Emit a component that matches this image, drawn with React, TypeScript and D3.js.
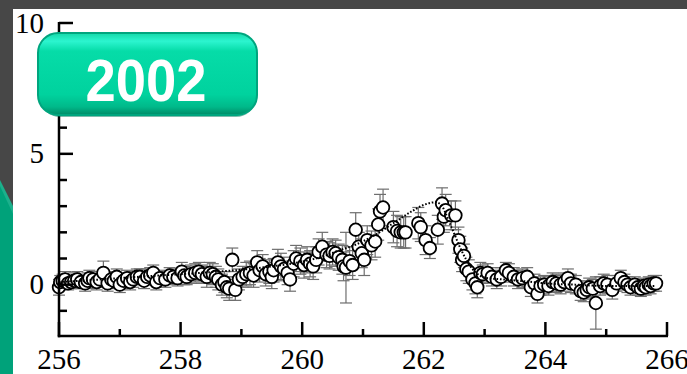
import React from "react";
import * as d3 from "d3";

const xTicksMajor = [256, 258, 260, 262, 264, 266];
const xTicksMinor = [257, 259, 261, 263, 265];
const yTicksMajor = [0, 5, 10];
const yTicksMinor = [-1, 1, 2, 3, 4, 6, 7, 8, 9];

// measured data: energy, value, error
const dataX = [
  256.0, 256.02, 256.06, 256.1, 256.15, 256.2, 256.25, 256.3, 256.36, 256.43, 256.47, 256.5, 256.56, 256.62, 256.67, 256.73, 256.8, 256.86, 256.9, 256.95, 257.0, 257.06, 257.12, 257.17, 257.22, 257.28, 257.33, 257.4, 257.45, 257.5, 257.55, 257.6, 257.66, 257.75, 257.82, 257.88, 257.95, 258.02, 258.06, 258.1, 258.17, 258.24, 258.3, 258.35, 258.43, 258.48, 258.53, 258.58, 258.62, 258.68, 258.72, 258.76, 258.8, 258.85, 258.9, 258.96, 259.02, 259.08, 259.14, 259.2, 259.26, 259.3, 259.35, 259.4, 259.46, 259.5, 259.53, 259.6, 259.65, 259.7, 259.76, 259.8, 259.86, 259.9, 259.97, 260.03, 260.08, 260.13, 260.18, 260.23, 260.27, 260.33, 260.4, 260.45, 260.5, 260.55, 260.6, 260.66, 260.68, 260.72, 260.78, 260.83, 260.88, 260.93, 260.98, 261.02, 261.07, 261.14, 261.2, 261.25, 261.28, 261.33, 261.5, 261.56, 261.62, 261.67, 261.7, 261.91, 261.95, 262.03, 262.1, 262.23, 262.3, 262.33, 262.36, 262.45, 262.52, 262.57, 262.6, 262.63, 262.66, 262.7, 262.74, 262.8, 262.85, 262.88, 262.93, 262.97, 263.05, 263.12, 263.2, 263.27, 263.35, 263.4, 263.48, 263.55, 263.62, 263.7, 263.76, 263.82, 263.87, 263.92, 263.98, 264.05, 264.12, 264.18, 264.25, 264.31, 264.37, 264.42, 264.5, 264.58, 264.63, 264.68, 264.72, 264.78, 264.83, 264.9, 264.96, 265.02, 265.1, 265.17, 265.24, 265.3, 265.35, 265.4, 265.47, 265.52, 265.57, 265.62, 265.65, 265.7, 265.73, 265.78, 265.82,
];
const dataY = [
  -0.1, 0.1, 0.15, 0.2, 0.05, 0.1, 0.15, 0.2, 0.1, 0.05, 0.15, 0.25, 0.2, 0.1, 0.2, 0.45, 0.05, 0.2, 0.15, 0.3, 0.0, 0.15, 0.25, 0.1, 0.2, 0.3, 0.3, 0.15, 0.3, 0.35, 0.45, 0.1, 0.25, 0.2, 0.35, 0.3, 0.25, 0.5, 0.35, 0.3, 0.4, 0.45, 0.5, 0.4, 0.3, 0.45, 0.4, 0.3, 0.2, 0.0, 0.1, -0.1, -0.15, 0.95, -0.2, 0.2, 0.3, 0.4, 0.45, 0.35, 0.85, 0.55, 0.7, 0.4, 0.5, 0.3, 0.55, 0.85, 0.7, 0.6, 0.45, 0.2, 0.8, 1.0, 0.9, 0.75, 0.95, 0.8, 0.7, 0.95, 1.25, 1.45, 1.15, 1.1, 1.25, 1.2, 1.05, 0.95, 0.7, 0.65, 0.9, 0.75, 2.1, 1.45, 1.2, 0.95, 1.7, 1.5, 1.65, 2.3, 2.8, 2.95, 2.2, 2.05, 2.0, 2.0, 2.0, 2.35, 2.2, 1.7, 1.4, 2.1, 3.1, 2.6, 2.85, 2.65, 2.65, 1.7, 1.35, 0.95, 1.1, 0.6, 0.5, 0.2, 0.05, -0.1, 0.45, 0.4, 0.45, 0.3, 0.2, 0.3, 0.55, 0.45, 0.3, 0.2, 0.25, 0.3, -0.1, 0.05, -0.35, -0.05, 0.0, -0.05, 0.1, 0.05, 0.0, 0.1, 0.25, 0.05, 0.0, -0.25, -0.3, -0.2, -0.1, -0.15, -0.7, -0.05, 0.05, 0.0, -0.2, 0.05, 0.25, 0.1, 0.0, -0.1, 0.0, -0.1, -0.15, -0.05, -0.1, 0.0, -0.05, 0.05, 0.05,
];
const dataErr = [
  0.3, 0.25, 0.25, 0.3, 0.25, 0.25, 0.3, 0.3, 0.25, 0.3, 0.3, 0.3, 0.3, 0.3, 0.3, 0.45, 0.3, 0.3, 0.3, 0.3, 0.3, 0.3, 0.3, 0.3, 0.3, 0.3, 0.3, 0.3, 0.3, 0.3, 0.3, 0.3, 0.3, 0.3, 0.3, 0.3, 0.3, 0.35, 0.35, 0.3, 0.35, 0.35, 0.35, 0.35, 0.4, 0.4, 0.4, 0.4, 0.4, 0.4, 0.4, 0.4, 0.45, 0.45, 0.4, 0.4, 0.4, 0.45, 0.45, 0.45, 0.45, 0.45, 0.45, 0.45, 0.45, 0.45, 0.45, 0.5, 0.5, 0.45, 0.45, 0.45, 0.5, 0.5, 0.5, 0.5, 0.5, 0.5, 0.5, 0.5, 0.5, 0.55, 0.5, 0.5, 0.5, 0.5, 0.5, 0.55, 0.55, 1.35, 0.55, 0.55, 0.65, 0.55, 0.55, 0.6, 0.55, 0.55, 0.6, 0.6, 0.65, 0.7, 0.6, 0.6, 0.6, 0.6, 0.6, 0.6, 0.55, 0.55, 0.4, 0.55, 0.6, 0.6, 0.6, 0.55, 0.55, 0.5, 0.5, 0.45, 0.45, 0.45, 0.45, 0.4, 0.4, 0.4, 0.4, 0.35, 0.35, 0.35, 0.35, 0.35, 0.3, 0.35, 0.35, 0.35, 0.35, 0.35, 0.35, 0.35, 0.35, 0.35, 0.35, 0.35, 0.35, 0.35, 0.35, 0.35, 0.35, 0.35, 0.35, 0.35, 0.35, 0.35, 0.35, 0.35, 1.0, 0.35, 0.35, 0.35, 0.35, 0.3, 0.3, 0.3, 0.3, 0.3, 0.3, 0.3, 0.3, 0.3, 0.3, 0.3, 0.3, 0.3, 0.3, 0.3,
];

// fit curve (dotted)
const fitX = [256, 256.5, 257, 257.5, 258, 258.5, 259, 259.5, 260, 260.3, 260.6, 260.9, 261.2, 261.5, 261.8, 262.0, 262.2, 262.3, 262.4, 262.5, 262.6, 262.7, 262.8, 262.9, 263.0, 263.3, 263.7, 264.0, 264.5, 265.0, 265.8];
const fitY = [0.1, 0.17, 0.25, 0.33, 0.4, 0.48, 0.57, 0.7, 0.88, 1.05, 1.3, 1.55, 1.9, 2.35, 2.8, 3.05, 3.15, 3.0, 2.5, 1.95, 1.4, 0.95, 0.6, 0.38, 0.27, 0.2, 0.12, 0.05, 0.0, -0.05, -0.05];

const badgeLabel = "2002";

export default function App() {
  const W = 687, H = 374;
  const x = d3.scaleLinear().domain([256, 266]).range([59, 667]);
  const y = d3.scaleLinear().domain([-2, 10]).range([337, 23]);
  const axisY = 336;
  const axisX = 59;
  const n = Math.min(dataX.length, dataY.length, dataErr.length);
  const pts = d3.range(n).map(i => ({ x: dataX[i], y: dataY[i], e: dataErr[i] }));
  const fit = fitX.map((v, i) => [v, fitY[i]] as [number, number]);
  const line = d3.line<[number, number]>().x(d => x(d[0])).y(d => y(d[1])).curve(d3.curveMonotoneX);
  const serif = "'Liberation Serif', 'Times New Roman', serif";
  return (
    <div style={{ position: "fixed", left: 0, top: 0, width: W, height: H }}>
      <svg width={W} height={H} style={{ display: "block" }}>
        <defs>
          <linearGradient id="badge" x1="0" y1="0" x2="0" y2="1">
            <stop offset="0" stopColor="#14d8a8" />
            <stop offset="0.1" stopColor="#2cf5cf" />
            <stop offset="0.22" stopColor="#06dca8" />
            <stop offset="0.75" stopColor="#00d29e" />
            <stop offset="0.9" stopColor="#00b98a" />
            <stop offset="1" stopColor="#008a66" />
          </linearGradient>
        </defs>
        <rect x={0} y={0} width={W} height={H} fill="#ffffff" />
        <rect x={0} y={0} width={W} height={9} fill="#474747" />
        <rect x={0} y={0} width={13} height={H} fill="#474747" />
        <polygon points={`0,180 13,206 13,${H} 0,${H}`} fill="#1cb08c" />
        <polygon points={`0,186 13,214 13,${H} 0,${H}`} fill="#00a27a" />

        {/* error bars */}
        <g stroke="#6e6e6e" strokeWidth={1.2} fill="none">
          {pts.map((p, i) => (
            <g key={i}>
              <line x1={x(p.x)} x2={x(p.x)} y1={y(p.y - p.e)} y2={y(p.y + p.e)} />
              <line x1={x(p.x) - 6} x2={x(p.x) + 6} y1={y(p.y - p.e)} y2={y(p.y - p.e)} />
              <line x1={x(p.x) - 6} x2={x(p.x) + 6} y1={y(p.y + p.e)} y2={y(p.y + p.e)} />
            </g>
          ))}
        </g>
        {/* circles */}
        <g>
          {pts.map((p, i) => (
            <circle key={i} cx={x(p.x)} cy={y(p.y)} r={6.3} fill="#ffffff" stroke="#000" strokeWidth={1.8} />
          ))}
        </g>
        {/* fit */}
        <path d={line(fit) || ""} fill="none" stroke="#000" strokeWidth={2} strokeDasharray="1.6 1.8" />

        {/* axes */}
        <g stroke="#000" strokeWidth={2.5} fill="none">
          <line x1={axisX} x2={axisX} y1={y(10) - 1} y2={axisY + 1.2} />
          <line x1={axisX - 1.2} x2={x(266) + 1} y1={axisY} y2={axisY} />
          {yTicksMajor.map(t => (
            <line key={"ym" + t} x1={axisX} x2={axisX + 14} y1={y(t)} y2={y(t)} />
          ))}
          {yTicksMinor.map(t => (
            <line key={"yn" + t} x1={axisX} x2={axisX + 8} y1={y(t)} y2={y(t)} />
          ))}
          {xTicksMajor.map(t => (
            <line key={"xm" + t} x1={x(t)} x2={x(t)} y1={axisY} y2={axisY - 14} />
          ))}
          {xTicksMinor.map(t => (
            <line key={"xn" + t} x1={x(t)} x2={x(t)} y1={axisY} y2={axisY - 7} />
          ))}
        </g>
        <g fontFamily={serif} fontSize={29} fill="#000">
          {yTicksMajor.map(t => (
            <text key={"yl" + t} x={44} y={y(t) + 9.5} textAnchor="end">{t}</text>
          ))}
          {xTicksMajor.map(t => (
            <text key={"xl" + t} x={x(t)} y={369} textAnchor="middle">{t}</text>
          ))}
        </g>

        {/* badge */}
        <rect x={40} y={37} width={216} height={80} rx={20} ry={20} fill="#007a5a" opacity={0.5} />
        <rect x={38} y={33} width={219} height={82} rx={20} ry={20} fill="url(#badge)" stroke="#00a57e" strokeWidth={2} />
        <text x={146} y={101} textAnchor="middle" fontFamily="'Liberation Sans', Arial, sans-serif" fontWeight="bold" fontSize={60} fill="#ffffff" textLength={121} lengthAdjust="spacingAndGlyphs">{badgeLabel}</text>
      </svg>
    </div>
  );
}
